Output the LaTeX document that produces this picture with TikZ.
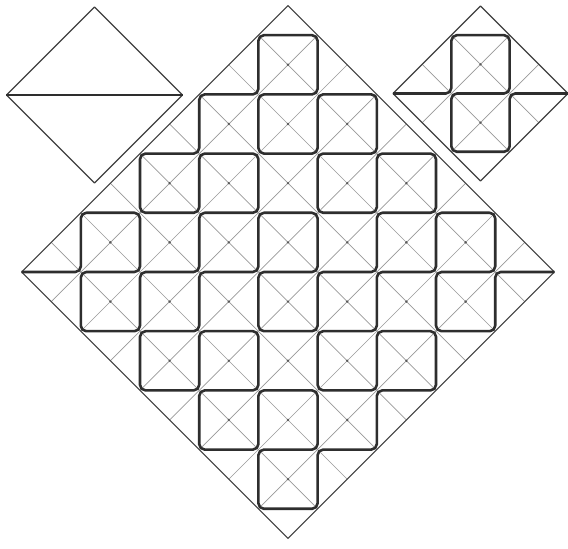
\documentclass[tikz,border=0pt]{standalone}
\begin{document}
\begin{tikzpicture}[x=1pt,y=1pt,
  thinline/.style={line width=0.65pt, draw=black!40},
  frameline/.style={line width=1.15pt, draw=black!75, line join=round},
  boldpath/.style={line width=2.6pt, draw=black!82, rounded corners=5.5pt, line join=round},
  gdot/.style={fill=black!65, draw=none}]
\useasboundingbox (0,0) rectangle (568,549);
\fill[white] (0,0) rectangle (568,549);

% ---------- big diamond ----------
\begin{scope}[shift={(288,277)}, x=59.2pt, y=59.2pt]
  \foreach \c in {-3.5,-2.5,...,3.5} {
    \draw[thinline] ({(\c-4.5)/2},{(\c+4.5)/2}) -- ({(\c+4.5)/2},{(\c-4.5)/2});
    \draw[thinline] ({(\c-4.5)/2},{(-\c-4.5)/2}) -- ({(\c+4.5)/2},{(4.5-\c)/2});
  }
  \draw[frameline] (0,4.5) -- (4.5,0) -- (0,-4.5) -- (-4.5,0) -- cycle;
  \foreach \i in {-3,...,3} {
    \foreach \j in {-3.5,-2.5,...,3.5} {
      \pgfmathtruncatemacro\ok{(abs(\i)+abs(\j))<3.6 ? 1 : 0}
      \ifnum\ok=1 \fill[gdot] (\i,\j) circle (1.3pt); \fi
    }
  }
  \draw[boldpath] (-4.5,0) -- (-3.5,0) -- (-3.5,1) -- (-2.5,1) -- (-2.5,0) -- (-3.5,0)
    -- (-3.5,-1) -- (-2.5,-1) -- (-2.5,0) -- (-1.5,0) -- (-1.5,1) -- (-0.5,1)
    -- (-0.5,2) -- (-1.5,2) -- (-1.5,1) -- (-2.5,1) -- (-2.5,2) -- (-1.5,2)
    -- (-1.5,3) -- (-0.5,3) -- (-0.5,4) -- (0.5,4) -- (0.5,3) -- (-0.5,3)
    -- (-0.5,2) -- (0.5,2) -- (0.5,3) -- (1.5,3) -- (1.5,2) -- (0.5,2)
    -- (0.5,1) -- (1.5,1) -- (1.5,2) -- (2.5,2) -- (2.5,1) -- (1.5,1)
    -- (1.5,0) -- (0.5,0) -- (0.5,-1) -- (-0.5,-1) -- (-0.5,0) -- (0.5,0)
    -- (0.5,1) -- (-0.5,1) -- (-0.5,0) -- (-1.5,0) -- (-1.5,-1) -- (-2.5,-1)
    -- (-2.5,-2) -- (-1.5,-2) -- (-1.5,-1) -- (-0.5,-1) -- (-0.5,-2) -- (-1.5,-2)
    -- (-1.5,-3) -- (-0.5,-3) -- (-0.5,-2) -- (0.5,-2) -- (0.5,-3) -- (-0.5,-3)
    -- (-0.5,-4) -- (0.5,-4) -- (0.5,-3) -- (1.5,-3) -- (1.5,-2) -- (2.5,-2)
    -- (2.5,-1) -- (1.5,-1) -- (1.5,-2) -- (0.5,-2) -- (0.5,-1) -- (1.5,-1)
    -- (1.5,0) -- (2.5,0) -- (2.5,1) -- (3.5,1) -- (3.5,0) -- (2.5,0)
    -- (2.5,-1) -- (3.5,-1) -- (3.5,0) -- (4.5,0);
\end{scope}

% ---------- small left diamond ----------
\begin{scope}[shift={(94.5,454)}, x=58.7pt, y=58.7pt]
  \draw[frameline] (0,1.5) -- (1.5,0) -- (0,-1.5) -- (-1.5,0) -- cycle;
  \draw[boldpath] (-1.5,0) -- (1.5,0);
\end{scope}

% ---------- small right diamond ----------
\begin{scope}[shift={(480.5,455.5)}, x=58.3pt, y=58.3pt]
  \foreach \c in {-0.5,0.5} {
    \draw[thinline] ({(\c-1.5)/2},{(\c+1.5)/2}) -- ({(\c+1.5)/2},{(\c-1.5)/2});
    \draw[thinline] ({(\c-1.5)/2},{(-\c-1.5)/2}) -- ({(\c+1.5)/2},{(1.5-\c)/2});
  }
  \draw[frameline] (0,1.5) -- (1.5,0) -- (0,-1.5) -- (-1.5,0) -- cycle;
  \fill[gdot] (0,0.5) circle (1.3pt);
  \fill[gdot] (0,-0.5) circle (1.3pt);
  \draw[boldpath] (-1.5,0) -- (-0.5,0) -- (-0.5,1) -- (0.5,1) -- (0.5,0) -- (-0.5,0)
    -- (-0.5,-1) -- (0.5,-1) -- (0.5,0) -- (1.5,0);
\end{scope}
\end{tikzpicture}
\end{document}
